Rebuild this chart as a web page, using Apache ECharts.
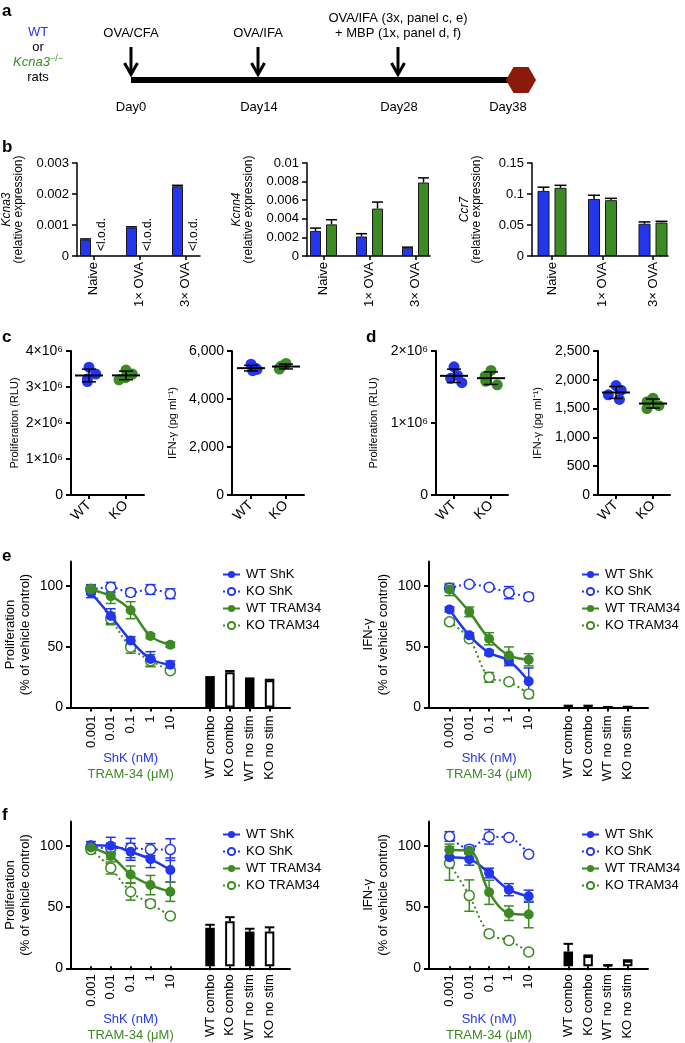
<!DOCTYPE html>
<html><head><meta charset="utf-8">
<script src="https://cdn.jsdelivr.net/npm/echarts@6/dist/echarts.min.js"></script>
<style>html,body{margin:0;padding:0;background:#fff}#c{width:685px;height:1043px}</style>
</head><body><div id="c"></div>
<script>
// ===================== DATA =====================
// panel a (schematic)
const groupLines = ['WT', 'or', 'Kcna3', 'rats'];
const eventLabels = [['OVA/CFA'], ['OVA/IFA'], ['OVA/IFA (3x, panel c, e)', '+ MBP (1x, panel d, f)']];
const dayLabels = ['Day0', 'Day14', 'Day28', 'Day38'];

// panel b
const bCategories = ['Naive', '1× OVA', '3× OVA'];
const kcna3WT = [0.00053, 0.00092, 0.00225];
const kcna3WTsd = [0.00002, 0.00002, 0.00003];
const kcna3KO = [0, 0, 0];            // below limit of detection
const lodText = '<l.o.d.';
const kcnn4WT = [0.0027, 0.0021, 0.0009];
const kcnn4WTsd = [0.0003, 0.0003, 0.00005];
const kcnn4KO = [0.0034, 0.0051, 0.0079];
const kcnn4KOsd = [0.0005, 0.0007, 0.0005];
const ccr7WT = [0.105, 0.092, 0.052];
const ccr7WTsd = [0.006, 0.006, 0.003];
const ccr7KO = [0.110, 0.090, 0.054];
const ccr7KOsd = [0.004, 0.003, 0.002];

// panels c, d (individual rats)
const cdCategories = ['WT', 'KO'];
const cProlWT = [3.55e6, 3.36e6, 3.22e6, 3.15e6];
const cProlKO = [3.47e6, 3.36e6, 3.26e6, 3.20e6];
const cIfnWT = [5450, 5280, 5230, 5180];
const cIfnKO = [5480, 5380, 5300, 5250];
const dProlWT = [1.78e6, 1.66e6, 1.62e6, 1.56e6];
const dProlKO = [1.73e6, 1.65e6, 1.58e6, 1.53e6];
const dIfnWT = [1900, 1820, 1740, 1660];
const dIfnKO = [1680, 1620, 1550, 1500];

// panels e, f
const doses = ['0.001', '0.01', '0.1', '1', '10'];
const controls = ['WT combo', 'KO combo', 'WT no stim', 'KO no stim'];
const seriesNames = ['WT ShK', 'KO ShK', 'WT TRAM34', 'KO TRAM34'];

const eProlWTShK = [94.3, 75.2, 55.1, 39.9, 35.2],  eProlWTShKsd = [4, 6, 3, 6, 3];
const eProlKOShK = [97.0, 98.8, 94.6, 97.0, 93.5],  eProlKOShKsd = [4, 4, 3, 4, 4];
const eProlWTTram = [97.0, 91.5, 80.0, 58.7, 51.6], eProlWTTramsd = [3, 6, 7, 2, 2];
const eProlKOTram = [97.0, 73.0, 49.6, 38.5, 30.2], eProlKOTramsd = [3, 5, 5, 5, 2];
const eProlBars = [24.5, 29.0, 23.4, 22.5],         eProlBarsd = [0.5, 1, 0.5, 0.3];

const eIfnWTShK = [80.6, 59.3, 45.0, 38.4, 21.5],   eIfnWTShKsd = [2, 2, 2, 4, 11];
const eIfnKOShK = [98.0, 101.3, 98.8, 94.4, 91.0],  eIfnKOShKsd = [3, 2, 2, 5, 3];
const eIfnWTTram = [97.0, 78.6, 56.5, 42.8, 39.2],  eIfnWTTramsd = [5, 4, 5, 7, 5];
const eIfnKOTram = [70.4, 56.5, 24.8, 21.2, 11.0],  eIfnKOTramsd = [2, 2, 4, 2, 3];
const eIfnBars = [1.2, 1.2, 0.3, 0.5],              eIfnBarsd = [0.3, 0.3, 0.1, 0.1];

const fProlWTShK = [100.4, 99.9, 94.9, 88.8, 79.8], fProlWTShKsd = [3, 7, 7, 7, 10];
const fProlKOShK = [98.5, 98.0, 98.0, 96.7, 96.7],  fProlKOShKsd = [2, 4, 8, 5, 9];
const fProlWTTram = [98.5, 91.5, 76.1, 67.3, 61.8], fProlWTTramsd = [2, 3, 7, 8, 8];
const fProlKOTram = [96.7, 81.5, 61.8, 51.9, 41.7], fProlKOTramsd = [2, 5, 7, 3, 2];
const fProlBars = [31.9, 37.4, 28.9, 28.9],         fProlBarsd = [2.5, 3.3, 2.2, 3.4];

const fIfnWTShK = [90.3, 88.8, 77.3, 63.5, 58.1],   fIfnWTShKsd = [6, 5, 4, 5, 5];
const fIfnKOShK = [107.6, 97.1, 107.3, 106.7, 92.9], fIfnKOShKsd = [4, 3, 6, 2, 2];
const fIfnWTTram = [96.3, 95.8, 61.3, 44.0, 42.9],  fIfnWTTramsd = [5, 3, 10, 6, 11];
const fIfnKOTram = [85.3, 58.6, 27.0, 21.4, 11.8],  fIfnKOTramsd = [14, 13, 2, 2, 2];
const fIfnBars = [12.3, 8.5, 0.8, 4.5],             fIfnBarsd = [6.3, 0.5, 0.2, 0.5];

// ===================== BUILD =====================
const FONT = '"Liberation Sans", Arial, Helvetica, sans-serif';
const BLUE = '#2336EE', GREEN = '#3D8A24', HEX = '#8B1A0A';
const option = { animation: false, backgroundColor: '#fff', grid: [], xAxis: [], yAxis: [], series: [], legend: [], graphic: [] };

function panel(p) {
  const gF = option.grid.length;
  option.grid.push({ left: p.axisX, top: p.top, width: p.axisEnd - p.axisX, height: p.y0 - p.top });
  option.xAxis.push({ type: 'value', gridIndex: gF, min: 0, max: 1,
    axisLine: { show: true, onZero: false, lineStyle: { color: '#000', width: p.lw } },
    axisTick: { show: false }, axisLabel: { show: false }, splitLine: { show: false } });
  const yF = { type: 'value', gridIndex: gF, min: p.yMin, max: p.yMax, interval: p.yInterval,
    axisLine: { show: true, onZero: false, lineStyle: { color: '#000', width: p.lw } },
    axisTick: { show: true, length: 5, lineStyle: { color: '#000', width: p.lw } },
    axisLabel: { color: '#000', fontSize: p.tickFont, fontFamily: FONT, margin: 8, formatter: p.yFmt },
    splitLine: { show: false },
    name: p.yName, nameLocation: 'middle', nameRotate: 90, nameGap: p.nameGap,
    nameTextStyle: { color: '#000', fontSize: p.nameFont, fontFamily: FONT, lineHeight: p.nameLH, align: 'center', rich: p.nameRich } };
  if (p.yCustom) { yF.axisTick.customValues = p.yCustom; yF.axisLabel.customValues = p.yCustom; }
  option.yAxis.push(yF);
  const gD = option.grid.length;
  option.grid.push({ left: p.bandLeft, top: p.top, width: p.bandWidth, height: p.y0 - p.top });
  const xD = option.xAxis.length;
  option.xAxis.push(Object.assign({ type: 'category', gridIndex: gD, data: p.cats,
    axisLine: { show: false },
    axisTick: { show: true, alignWithLabel: true, length: 4, lineStyle: { color: '#000', width: p.lw },
      interval: (i, v) => v !== '' },
    axisLabel: { interval: 0, rotate: p.rot, color: '#000', fontSize: p.catFont, fontFamily: FONT, margin: p.catMargin || 8 },
    splitLine: { show: false } }, p.xExtra || {}));
  const yD = option.yAxis.length;
  option.yAxis.push({ type: 'value', gridIndex: gD, min: p.yMin, max: p.yMax, show: false });
  return { x: xD, y: yD };
}

function errSeries(ax, data, color, o) {
  option.series.push({ type: 'custom', xAxisIndex: ax.x, yAxisIndex: ax.y, silent: true, z: o.z || 3,
    data: data, encode: { x: 0, y: [1, 2] },
    renderItem(params, api) {
      const x = api.value(0);
      const lo = api.coord([x, api.value(1)]), hi = api.coord([x, api.value(2)]);
      const cx = lo[0] + (o.dx || 0), hw = o.cap;
      const st = { stroke: color, lineWidth: o.lw };
      const ch = [
        { type: 'line', shape: { x1: cx, y1: lo[1], x2: cx, y2: hi[1] }, style: st },
        { type: 'line', shape: { x1: cx - hw, y1: hi[1], x2: cx + hw, y2: hi[1] }, style: st }];
      if (!o.upperOnly) ch.push({ type: 'line', shape: { x1: cx - hw, y1: lo[1], x2: cx + hw, y2: lo[1] }, style: st });
      return { type: 'group', children: ch };
    } });
}

// ---------- panel b ----------
const sciFmt = v => v === 0 ? '0' : String(+v.toFixed(4));
function bPanel(p, wt, wtSd, ko, koSd, lod) {
  const ax = panel(Object.assign({ top: 163, y0: 256, lw: 1.5, tickFont: 13, catFont: 13, rot: 90, catMargin: 6,
    nameFont: 12, nameLH: 12, cats: bCategories, yFmt: sciFmt }, p));
  const bw = p.bw, gap = 5;
  option.series.push({ type: 'bar', xAxisIndex: ax.x, yAxisIndex: ax.y, data: wt, barWidth: bw, barGap: (gap / bw * 100) + '%',
    itemStyle: { color: BLUE, borderColor: '#1a1a1a', borderWidth: 1 }, silent: true, z: 2 });
  if (lod) {
    option.series.push({ type: 'bar', xAxisIndex: ax.x, yAxisIndex: ax.y, data: ko, barWidth: bw, barGap: (gap / bw * 100) + '%',
      itemStyle: { color: 'rgba(0,0,0,0)', borderWidth: 0 }, silent: true,
      label: { show: true, formatter: lodText, position: 'top', distance: 5, rotate: 90, align: 'left', verticalAlign: 'middle',
        color: '#000', fontSize: 12, fontFamily: FONT } });
  } else {
    option.series.push({ type: 'bar', xAxisIndex: ax.x, yAxisIndex: ax.y, data: ko, barWidth: bw, barGap: (gap / bw * 100) + '%',
      itemStyle: { color: GREEN, borderColor: '#1a1a1a', borderWidth: 1 }, silent: true, z: 2 });
    errSeries(ax, ko.map((v, i) => [i, v, v + koSd[i]]), '#000', { dx: (bw + gap) / 2, cap: bw / 2, lw: 1.5, upperOnly: true, z: 1 });
  }
  errSeries(ax, wt.map((v, i) => [i, v, v + wtSd[i]]), '#000', { dx: -(bw + gap) / 2, cap: bw / 2, lw: 1.5, upperOnly: true, z: 1 });
}
bPanel({ axisX: 77, axisEnd: 200, bandLeft: 70.5, bandWidth: 138, bw: 11, yMin: 0, yMax: 0.003, yInterval: 0.001,
  yName: '{i|Kcna3}\n(relative expression)', nameGap: 52, nameRich: { i: { fontStyle: 'italic', fontSize: 12, fontFamily: FONT } } },
  kcna3WT, kcna3WTsd, kcna3KO, null, true);
bPanel({ axisX: 307, axisEnd: 430, bandLeft: 300.5, bandWidth: 138, bw: 11, yMin: 0, yMax: 0.01, yInterval: 0.002,
  yName: '{i|Kcnn4}\n(relative expression)', nameGap: 52, nameRich: { i: { fontStyle: 'italic', fontSize: 12, fontFamily: FONT } } },
  kcnn4WT, kcnn4WTsd, kcnn4KO, kcnn4KOsd, false);
bPanel({ axisX: 532, axisEnd: 668, bandLeft: 526.75, bandWidth: 151.5, bw: 12, yMin: 0, yMax: 0.15, yInterval: 0.05,
  yName: '{i|Ccr7}\n(relative expression)', nameGap: 49, nameRich: { i: { fontStyle: 'italic', fontSize: 12, fontFamily: FONT } } },
  ccr7WT, ccr7WTsd, ccr7KO, ccr7KOsd, false);

// ---------- panels c, d ----------
const mean = a => a.reduce((s, v) => s + v, 0) / a.length;
const sd = a => { const m = mean(a); return Math.sqrt(a.reduce((s, v) => s + (v - m) * (v - m), 0) / (a.length - 1)); };
const e6Fmt = v => v === 0 ? '0' : (v / 1e6) + '×10⁶';
const commaFmt = v => v.toLocaleString('en-US');
function dotPanel(p, wt, ko) {
  const ax = panel(Object.assign({ top: 351, y0: 495, lw: 2, tickFont: 14, catFont: 14, rot: 45, catMargin: 8,
    nameFont: 11, nameLH: 13, cats: cdCategories,
    xExtra: { jitter: 16, jitterOverlap: false, jitterMargin: 1 } }, p));
  [[wt, BLUE], [ko, GREEN]].forEach(([vals, col], k) => {
    option.series.push({ type: 'scatter', xAxisIndex: ax.x, yAxisIndex: ax.y, data: vals.map(v => [k, v]),
      symbolSize: 11, itemStyle: { color: col, opacity: 1 }, silent: true, z: 2 });
  });
  option.series.push({ type: 'custom', xAxisIndex: ax.x, yAxisIndex: ax.y, silent: true, z: 4,
    data: [[0, mean(wt), sd(wt)], [1, mean(ko), sd(ko)]], encode: { x: 0, y: 1 },
    renderItem(params, api) {
      const x = api.value(0), m = api.value(1), s = api.value(2);
      const pm = api.coord([x, m]), ph = api.coord([x, m + s]), pl = api.coord([x, m - s]);
      const st = { stroke: '#000', lineWidth: 1.5 };
      return { type: 'group', children: [
        { type: 'line', shape: { x1: pm[0] - 14, y1: pm[1], x2: pm[0] + 14, y2: pm[1] }, style: { stroke: '#000', lineWidth: 2 } },
        { type: 'line', shape: { x1: ph[0], y1: ph[1], x2: pl[0], y2: pl[1] }, style: st },
        { type: 'line', shape: { x1: ph[0] - 7, y1: ph[1], x2: ph[0] + 7, y2: ph[1] }, style: st },
        { type: 'line', shape: { x1: pl[0] - 7, y1: pl[1], x2: pl[0] + 7, y2: pl[1] }, style: st }] };
    } });
}
dotPanel({ axisX: 71, axisEnd: 144, bandLeft: 70.5, bandWidth: 74, yMin: 0, yMax: 4e6, yInterval: 1e6, yFmt: e6Fmt,
  yName: 'Proliferation (RLU)', nameGap: 50 }, cProlWT, cProlKO);
dotPanel({ axisX: 232, axisEnd: 304, bandLeft: 233.5, bandWidth: 70, yMin: 0, yMax: 6000, yInterval: 2000, yFmt: commaFmt,
  yName: 'IFN-γ (pg ml⁻¹)', nameGap: 53 }, cIfnWT, cIfnKO);
dotPanel({ axisX: 436, axisEnd: 508, bandLeft: 435.5, bandWidth: 74, yMin: 0, yMax: 2e6, yInterval: 1e6, yFmt: e6Fmt,
  yName: 'Proliferation (RLU)', nameGap: 56 }, dProlWT, dProlKO);
dotPanel({ axisX: 598, axisEnd: 670, bandLeft: 597.5, bandWidth: 74, yMin: 0, yMax: 2500, yInterval: 500, yFmt: commaFmt,
  yName: 'IFN-γ (pg ml⁻¹)', nameGap: 54 }, dIfnWT, dIfnKO);

// ---------- panels e, f ----------
const efCats = [...doses, '', ...controls];
function dosePanel(p, lines, bars, barSd) {
  const ax = panel(Object.assign({ lw: 2, tickFont: 14, catFont: 13, rot: 90, catMargin: 8,
    nameFont: 13, nameLH: 15, cats: efCats, yMin: 0, yMax: 120, yInterval: 50, yCustom: [0, 50, 100] }, p));
  // control bars
  option.series.push({ type: 'bar', xAxisIndex: ax.x, yAxisIndex: ax.y, barWidth: 9.5, silent: true, z: 2,
    data: efCats.map((c, i) => i < 6 ? '-' : { value: bars[i - 6], itemStyle: { color: controls[i - 6].startsWith('WT') ? '#000' : '#fff' } }),
    itemStyle: { borderColor: '#000', borderWidth: 2 } });
  errSeries(ax, bars.map((v, i) => [i + 6, v, v + barSd[i]]), '#000', { cap: 4.75, lw: 2, upperOnly: true, z: 1 });
  // dose response
  lines.forEach(([name, vals, sds, color, open]) => {
    errSeries(ax, vals.map((v, i) => [i, v - sds[i], v + sds[i]]), color, { cap: 5, lw: 1.5, z: 3 });
    option.series.push({ type: 'line', name, xAxisIndex: ax.x, yAxisIndex: ax.y, data: vals, smooth: 0.35,
      symbol: 'circle', symbolSize: 10, silent: true, z: open ? 4 : 5,
      lineStyle: { color, width: open ? 2 : 2.5, type: open ? [2, 3] : 'solid' },
      itemStyle: open ? { color: '#fff', borderColor: color, borderWidth: 1.5 } : { color, borderColor: color, borderWidth: 0 } });
  });
  option.legend.push({ orient: 'vertical', left: p.legendX, top: p.legendY, padding: 0, itemWidth: 17, itemHeight: 9, itemGap: 2,
    selectedMode: false, data: seriesNames,
    textStyle: { color: '#000', fontSize: 13, fontFamily: FONT, lineHeight: 15, padding: [0, 0, 0, 1] } });
  // x-axis title: drug concentrations
  const cx = p.bandLeft + p.bandWidth / 20 * 5;
  option.graphic.push(textEl(cx, p.y0 + 51, 'ShK (nM)', { color: BLUE }));
  option.graphic.push(textEl(cx, p.y0 + 67, 'TRAM-34 (μM)', { color: GREEN }));
}

function textEl(x, y, text, o = {}) {
  return { type: 'text', x, y, silent: true, style: { text, fill: o.color || '#000',
    font: `${o.italic ? 'italic ' : ''}${o.bold ? 'bold ' : ''}${o.size || 13}px ${FONT}`,
    align: o.align || 'center', verticalAlign: 'middle', rich: o.rich } };
}

dosePanel({ axisX: 71, axisEnd: 290, bandLeft: 81, bandWidth: 198.5, top: 561.5, y0: 707.5, legendX: 222, legendY: 567,
  yName: 'Proliferation\n(% of vehicle control)', nameGap: 38 },
  [[seriesNames[0], eProlWTShK, eProlWTShKsd, BLUE, false], [seriesNames[1], eProlKOShK, eProlKOShKsd, BLUE, true],
   [seriesNames[2], eProlWTTram, eProlWTTramsd, GREEN, false], [seriesNames[3], eProlKOTram, eProlKOTramsd, GREEN, true]],
  eProlBars, eProlBarsd);
dosePanel({ axisX: 429, axisEnd: 648, bandLeft: 439.6, bandWidth: 198, top: 561.5, y0: 707.5, legendX: 581, legendY: 567,
  yName: 'IFN-γ\n(% of vehicle control)', nameGap: 38 },
  [[seriesNames[0], eIfnWTShK, eIfnWTShKsd, BLUE, false], [seriesNames[1], eIfnKOShK, eIfnKOShKsd, BLUE, true],
   [seriesNames[2], eIfnWTTram, eIfnWTTramsd, GREEN, false], [seriesNames[3], eIfnKOTram, eIfnKOTramsd, GREEN, true]],
  eIfnBars, eIfnBarsd);
dosePanel({ axisX: 71, axisEnd: 290, bandLeft: 81, bandWidth: 198.5, top: 821.5, y0: 968.4, legendX: 222, legendY: 827,
  yName: 'Proliferation\n(% of vehicle control)', nameGap: 38 },
  [[seriesNames[0], fProlWTShK, fProlWTShKsd, BLUE, false], [seriesNames[1], fProlKOShK, fProlKOShKsd, BLUE, true],
   [seriesNames[2], fProlWTTram, fProlWTTramsd, GREEN, false], [seriesNames[3], fProlKOTram, fProlKOTramsd, GREEN, true]],
  fProlBars, fProlBarsd);
dosePanel({ axisX: 429, axisEnd: 648, bandLeft: 439.6, bandWidth: 198, top: 821.5, y0: 968.4, legendX: 581, legendY: 827,
  yName: 'IFN-γ\n(% of vehicle control)', nameGap: 38 },
  [[seriesNames[0], fIfnWTShK, fIfnWTShKsd, BLUE, false], [seriesNames[1], fIfnKOShK, fIfnKOShKsd, BLUE, true],
   [seriesNames[2], fIfnWTTram, fIfnWTTramsd, GREEN, false], [seriesNames[3], fIfnKOTram, fIfnKOTramsd, GREEN, true]],
  fIfnBars, fIfnBarsd);

// ---------- panel letters ----------
[['a', 2, 11], ['b', 2, 147], ['c', 2, 337], ['d', 366, 337], ['e', 2, 556], ['f', 2, 815]].forEach(([t, x, y]) =>
  option.graphic.push(textEl(x, y, t, { bold: true, size: 17, align: 'left' })));

// ---------- panel a: schematic ----------
const colX = 38;
option.graphic.push(textEl(colX, 32, groupLines[0], { color: BLUE }));
option.graphic.push(textEl(colX, 47, groupLines[1]));
option.graphic.push({ type: 'text', x: colX, y: 62, silent: true, style: {
  text: '{k|' + groupLines[2] + '}{s|−/−}', align: 'center', verticalAlign: 'middle',
  rich: { k: { fill: GREEN, font: `italic 13px ${FONT}`, lineHeight: 16 },
          s: { fill: GREEN, font: `9px ${FONT}`, verticalAlign: 'top', lineHeight: 16, padding: [0, 0, 8, 0] } } } });
option.graphic.push(textEl(colX, 77, groupLines[3]));

const eventX = [131, 258, 398];
eventLabels.forEach((lines, k) => {
  const x = eventX[k];
  lines.forEach((t, j) => option.graphic.push(textEl(x, 33 - (lines.length - 1 - j) * 15, t)));
  option.graphic.push({ type: 'line', silent: true, shape: { x1: x, y1: 47, x2: x, y2: 74 }, style: { stroke: '#000', lineWidth: 3 } });
  option.graphic.push({ type: 'polyline', silent: true, shape: { points: [[x - 6.5, 63], [x, 74.5], [x + 6.5, 63]] },
    style: { stroke: '#000', lineWidth: 3, fill: null } });
});
option.graphic.push({ type: 'rect', silent: true, shape: { x: 131, y: 77, width: 381, height: 6 }, style: { fill: '#000' } });
const hc = [521, 80], hr = 15;
option.graphic.push({ type: 'polygon', silent: true,
  shape: { points: [0, 1, 2, 3, 4, 5].map(k => [hc[0] + hr * Math.cos(k * Math.PI / 3), hc[1] + hr * Math.sin(k * Math.PI / 3)]) },
  style: { fill: HEX } });
const dayX = [131, 259, 399, 508];
dayLabels.forEach((t, k) => option.graphic.push(textEl(dayX[k], 107, t)));

const chart = echarts.init(document.getElementById('c'), null, { renderer: 'canvas' });
chart.setOption(option);
</script></body></html>
